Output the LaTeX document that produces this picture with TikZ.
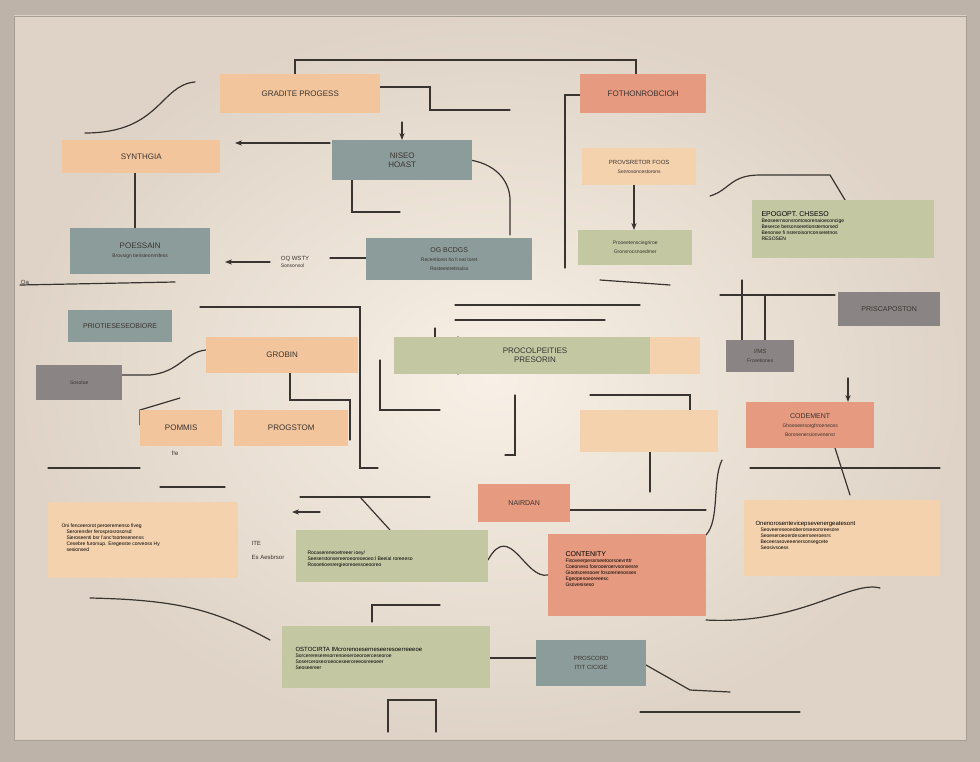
\documentclass[tikz,border=0pt]{standalone}
\usepackage{fontspec}
\setmainfont{Liberation Sans}
\usetikzlibrary{arrows.meta}
\definecolor{peach}{HTML}{F2C59C}
\definecolor{lpeach}{HTML}{F5D2AE}
\definecolor{salmon}{HTML}{E69A80}
\definecolor{slate}{HTML}{8C9C9A}
\definecolor{sage}{HTML}{C3C8A3}
\definecolor{dgray}{HTML}{8A8484}
\definecolor{ink}{HTML}{3A3430}
\definecolor{bgc}{HTML}{F8F0E6}
\definecolor{edge}{HTML}{DED3C6}
\tikzset{
 bx/.style={draw=none,anchor=north west,inner sep=0pt,font=\fontsize{8}{9}\selectfont,text=ink,align=center},
 cn/.style={draw=ink,line width=1.2pt,line cap=round},
 ar/.style={cn,-{Stealth[length=7pt]}},
 sm/.style={font=\fontsize{5}{6}\selectfont,align=left}
}
\newcommand{\bxn}[7]{\node[bx,fill=#6,minimum width=#4pt,minimum height=#5pt] (#1) at (#2pt,-#3pt) {#7};}
\begin{document}
\begin{tikzpicture}[x=1pt,y=-1pt]
\useasboundingbox (0,0) rectangle (980,762);
\fill[edge!85!black] (0,0) rectangle (980,762);
\shade[inner color=bgc,outer color=edge] (14,16) rectangle (966,740);
\draw[edge!75!black,line width=0.8pt] (14,16) rectangle (966,740);
% connectors
\coordinate (t1) at (295,60); \coordinate (t2) at (636,60);
\draw[cn] (295,74) -- (t1) -- (t2) -- (636,74);
\draw[cn] (380,87) -- (430,87) -- (430,110) -- (510,110);
\draw[ar] (330,143) -- (235,143);
\draw[cn] (85,133) .. controls (160,133) and (160,85) .. (195,82);
\draw[cn] (135,173) -- (135,228);
\draw[cn] (470,160) .. controls (500,165) and (510,185) .. (510,200) -- (510,235);
\draw[cn] (352,180) -- (352,212) -- (400,212);
\draw[cn] (580,95) -- (565,95) -- (565,268);
\draw[ar] (634,185) -- (634,230);
\draw[ar] (402,122) -- (402,140);
\draw[cn] (710,196) .. controls (730,190) and (730,175) .. (760,175) -- (830,175) -- (845,200);
\draw[cn] (200,307) -- (360,307) -- (360,468) -- (378,468);
\draw[cn] (122,375) -- (150,375) .. controls (180,372) and (185,352) .. (206,350);
\draw[cn] (290,373) -- (290,400) -- (350,400) -- (350,440);
\draw[cn] (380,360) -- (380,410) -- (440,410);
\draw[cn] (515,395) -- (515,455) -- (505,455);
\draw[cn] (455,305) -- (640,305);
\draw[cn] (455,320) -- (605,320);
\draw[cn] (435,328) -- (435,337);
\draw[cn] (458,337) -- (458,374);
\draw[cn] (720,295) -- (835,295);
\draw[cn] (742,280) -- (742,340);
\draw[cn] (765,295) -- (765,340);
\draw[cn] (590,395) -- (690,395) -- (690,410);
\draw[cn] (600,280) -- (670,285);
\draw[ar] (848,378) -- (848,402);
\draw[cn] (750,468) -- (940,468);
\draw[cn] (835,448) -- (850,495);
\draw[cn] (48,468) -- (140,468);
\draw[cn] (160,487) -- (225,487);
\draw[cn] (140,425) -- (140,410) -- (180,398);
\draw[cn] (300,497) -- (430,497);
\draw[cn] (360,497) -- (390,530);
\draw[ar] (320,512) -- (292,512);
\draw[cn] (570,510) -- (706,510);
\draw[cn] (650,452) -- (650,492);
\draw[cn] (706,535) .. controls (720,520) and (712,480) .. (722,460);
\draw[cn] (488,560) .. controls (510,520) and (525,580) .. (548,575);
\draw[cn] (90,598) .. controls (180,600) and (215,610) .. (270,640);
\draw[cn] (372,622) -- (372,605) -- (440,605);
\draw[cn] (490,658) -- (536,658);
\draw[cn] (646,665) -- (690,690) -- (730,692);
\draw[cn] (640,712) -- (800,712);
\draw[cn] (388,732) -- (388,700) -- (436,700) -- (436,732);
\draw[cn] (706,620) .. controls (800,625) and (850,580) .. (880,588);
\draw[ar] (270,262) -- (225,262);
\draw[cn] (330,258) -- (366,258);
\draw[cn] (20,285) -- (175,282);
% boxes
\bxn{b1}{220}{74}{160}{39}{peach}{GRADITE PROGESS}
\bxn{b2}{580}{74}{126}{39}{salmon}{FOTHONROBCIOH}
\bxn{b3}{62}{140}{158}{33}{peach}{SYNTHGIA}
\bxn{b4}{332}{140}{140}{40}{slate}{NISEO\\HOAST}
\bxn{b5}{582}{148}{114}{37}{lpeach}{\fontsize{6}{7}\selectfont PROVSRETOR FOOS\\ \fontsize{5}{6}\selectfont Senrosoncestorons}
\bxn{b6}{70}{228}{140}{46}{slate}{POESSAIN\\ \fontsize{5}{6}\selectfont Brovsign tieristeonmifess}
\bxn{b7}{366}{238}{166}{42}{slate}{\fontsize{7}{8}\selectfont OG BCDGS\\ \fontsize{5}{6}\selectfont Recenticest ho ll eat toret\\ \fontsize{5}{6}\selectfont Rosteestretinalss}
\bxn{b8}{578}{230}{114}{35}{sage}{\fontsize{5}{6}\selectfont Prooeetensciegriroe\\ \fontsize{5}{6}\selectfont Gronsrocsnoedmer}
\bxn{b9}{752}{200}{182}{58}{sage}{}
\node[sm,anchor=north west] at (758,208) {\fontsize{7}{8}\selectfont EPOGOPT. CHSESO\\Beoseernsonsrontosorenaioeconcige\\Beserce bersonseretionsternorsed\\Benonse fi nsreroisorrconseretnos\\RESOSEN};
\bxn{b10}{68}{310}{104}{32}{slate}{\fontsize{7}{8}\selectfont PRIOTIESESEOBIORE}
\bxn{b11}{838}{292}{102}{34}{dgray}{\fontsize{7}{8}\selectfont PRISCAPOSTON}
\bxn{b12}{206}{337}{152}{36}{peach}{GROBIN}
\bxn{b13}{394}{337}{306}{37}{sage}{}
\fill[lpeach] (650,337) rectangle (700,374);
\node[font=\fontsize{8}{9}\selectfont,text=ink,align=center] at (535,355) {PROCOLPEITIES\\PRESORIN};
\bxn{b14}{36}{365}{86}{35}{dgray}{\fontsize{5}{6}\selectfont Sosotoe}
\bxn{b15}{726}{340}{68}{32}{dgray}{\fontsize{6}{7}\selectfont I/MS\\ \fontsize{5}{6}\selectfont Frceetiones}
\bxn{b16}{140}{410}{82}{36}{peach}{POMMIS}
\bxn{b17}{234}{410}{114}{36}{peach}{PROGSTOM}
\bxn{b18}{580}{410}{138}{42}{lpeach}{}
\bxn{b19}{746}{402}{128}{46}{salmon}{\fontsize{7}{8}\selectfont CODEMENT\\ \fontsize{5}{6}\selectfont Ghoeseersorgfrroeneoss\\ \fontsize{5}{6}\selectfont Boronenersionvenensr}
\bxn{b20}{48}{502}{190}{76}{lpeach}{}
\node[sm,anchor=north west] at (58,520) {Oni fenceerorot peroeremenso fiveg\\\quad Serorensfer ferosprosrosorsd\\\quad Sieroseenti bsr l'anc'tsortesenenss\\\quad Cesebre furorsup. Eregesste corveoss Hy\\\quad sesionsed};
\bxn{b21}{478}{484}{92}{38}{salmon}{\fontsize{7}{8}\selectfont NAIRDAN}
\bxn{b22}{296}{530}{192}{52}{sage}{}
\node[sm,anchor=north west] at (304,547) {Rocasereneoetreeer ioey/\\Seeserstonsereeroeoreoeoeo:l Beeial roreeeso\\Rosoetioesrergieoreoessoeooreo\\};
\bxn{b23}{548}{534}{158}{82}{salmon}{}
\node[sm,anchor=north west] at (562,548) {\fontsize{7}{8}\selectfont CONTENITY\\Fisoveerpessrseetoorsoevrrttr\\Coeoneso fosrooeroervsonsesre\\Giootsoresooer fosorerienosses\\Egeopesoeoreeesc\\Gsovesiseso};
\bxn{b24}{744}{500}{196}{76}{lpeach}{}
\node[sm,anchor=north west] at (752,518) {\fontsize{6}{7}\selectfont Onenorosentevicepsevenergeatesont\\\quad Seoveereseoeoberorseeorsreesore\\\quad Seoeseroeoerdesoerrseeroesrs\\\quad Beceerasoveeenersonsegcete\\\quad Seosivsoess};
\bxn{b25}{282}{626}{208}{62}{sage}{}
\node[sm,anchor=north west] at (292,644) {\fontsize{6}{7}\selectfont OSTOCIRTA IMcrorenoeserneseeresoerreeeoe\\Sorcerereseresorrenoeseroeoroerceseoroe\\Sosercerosesroeoceseeroreeosreeoeer\\Seoseereer};
\bxn{b26}{536}{640}{110}{46}{slate}{\fontsize{6}{7}\selectfont PROSCORD\\ \fontsize{6}{7}\selectfont ITIT CICIGE};
% small labels
\node[font=\fontsize{6}{7}\selectfont,text=ink,align=left] (lb1) at (295,262) {OQ WSTY\\ \fontsize{5}{6}\selectfont Sonsonsol};
\node[font=\fontsize{6}{7}\selectfont,text=ink] (lb2) at (25,282) {Oa};
\node[font=\fontsize{6}{7}\selectfont,text=ink,align=left] (lb3) at (268,550) {ITE\\ \\Es Aesbrsor};
\node[font=\fontsize{6}{7}\selectfont,text=ink] (lb4) at (175,453) {f!e};
\end{tikzpicture}
\end{document}
